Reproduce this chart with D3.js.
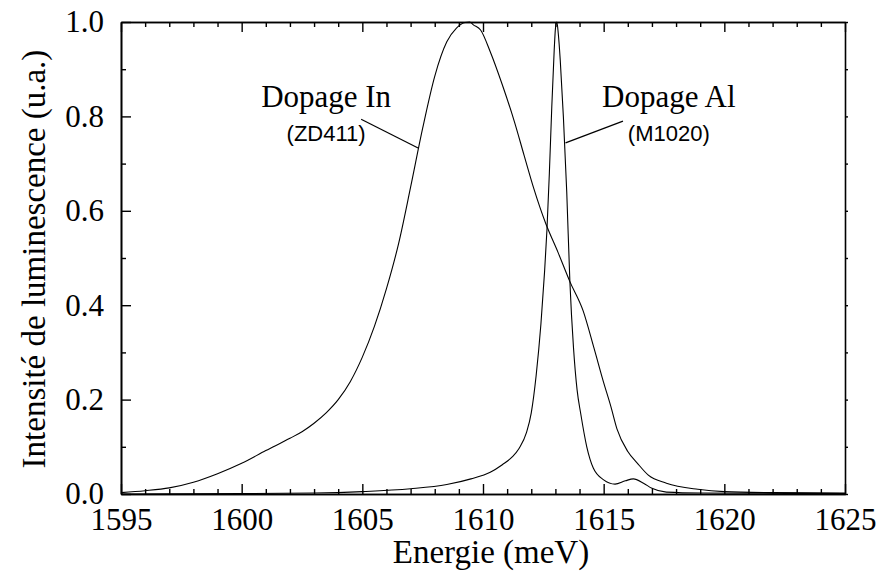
<!DOCTYPE html>
<html><head><meta charset="utf-8">
<script src="https://cdn.jsdelivr.net/npm/d3@7"></script>
<style>body{margin:0;background:#fff}</style>
</head><body><svg id="c" width="878" height="575"></svg>
<script>
// Dopage In (ZD411)
const inEnergy = [1595.0,1596.0,1597.0,1598.0,1599.0,1600.0,1601.0,1602.0,1602.5,1603.0,1603.5,1604.0,1604.5,1605.0,1605.5,1606.0,1606.5,1607.0,1607.5,1608.0,1608.5,1608.9,1609.25,1609.45,1609.6,1609.9,1610.3,1610.8,1611.3,1611.7,1612.1,1612.6,1613.1,1613.6,1614.15,1614.6,1615.0,1615.3,1615.55,1616.0,1616.4,1616.85,1617.6,1618.9,1620.0,1622.0,1625.0];
const inIntensity = [0.003,0.007,0.013,0.025,0.043,0.065,0.092,0.118,0.132,0.150,0.172,0.200,0.238,0.290,0.355,0.435,0.530,0.650,0.775,0.885,0.958,0.987,0.999,1.000,0.994,0.983,0.937,0.867,0.789,0.718,0.648,0.573,0.513,0.450,0.388,0.309,0.236,0.185,0.138,0.090,0.065,0.040,0.023,0.010,0.005,0.003,0.002];
// Dopage Al (M1020)
const alEnergy = [1595,1600,1603,1605,1607,1608.5,1609.5,1610.3,1610.8,1611.2,1611.5,1611.8,1612.0,1612.2,1612.4,1612.55,1612.65,1612.75,1612.85,1612.95,1613.0,1613.06,1613.12,1613.2,1613.33,1613.47,1613.6,1613.75,1613.9,1614.05,1614.3,1614.57,1615.0,1615.47,1615.9,1616.23,1616.65,1617.0,1617.6,1619.0,1625.0];
const alIntensity = [0.000,0.001,0.002,0.005,0.011,0.020,0.032,0.046,0.062,0.078,0.097,0.130,0.172,0.250,0.360,0.470,0.560,0.680,0.820,0.940,0.985,1.000,0.975,0.920,0.800,0.640,0.450,0.310,0.220,0.170,0.100,0.055,0.030,0.021,0.028,0.032,0.023,0.012,0.004,0.002,0.001];

const xMajorTicks = [1595,1600,1605,1610,1615,1620,1625];
const xMinorTicks = d3.range(1595,1626,1).filter(v=>v%5!==0);
const yMajorTicks = [0,0.2,0.4,0.6,0.8,1.0];
const yMinorTicks = [0.1,0.3,0.5,0.7,0.9];

const xTitle = "Energie (meV)";
const yTitle = "Intensité de luminescence (u.a.)";
const labelNames = ["Dopage In","Dopage Al"];
const labelSamples = ["(ZD411)","(M1020)"];
// annotation anchors in data units: [labelX, labelY, subY, lineX1, lineY1, lineX2, lineY2]
const labelAnchors = [
  [1603.5, 0.820, 0.748, 1604.95, 0.794, 1607.31, 0.733],
  [1617.70, 0.820, 0.748, 1615.80, 0.790, 1613.42, 0.744]
];

const W=878,H=575, m={l:121,r:33,t:22,b:81};
const svg=d3.select("#c");
const x=d3.scaleLinear().domain([1595,1625]).range([m.l,W-m.r]);
const y=d3.scaleLinear().domain([0,1]).range([H-m.b,m.t]);
const serif='"Liberation Serif","Times New Roman",serif';
const sans='"Liberation Sans",Arial,sans-serif';

function styleAxis(g){
  g.selectAll("path.domain").attr("stroke","#000").attr("stroke-width",1.6);
  g.selectAll(".tick line").attr("stroke","#000").attr("stroke-width",1.4);
  g.selectAll("text").attr("font-family",serif).attr("font-size",31).attr("fill","#000");
}
// bottom
const gb=svg.append("g").attr("transform",`translate(0,${y(0)})`)
  .call(d3.axisBottom(x).tickValues(xMajorTicks).tickFormat(d3.format("d")).tickSizeInner(-10).tickSizeOuter(0).tickPadding(14));
styleAxis(gb);
const gbm=svg.append("g").attr("transform",`translate(0,${y(0)})`)
  .call(d3.axisBottom(x).tickValues(xMinorTicks).tickFormat("").tickSizeInner(-5).tickSizeOuter(0));
styleAxis(gbm);
// top
const gt=svg.append("g").attr("transform",`translate(0,${y(1)})`)
  .call(d3.axisTop(x).tickValues(xMajorTicks).tickFormat("").tickSizeInner(-10).tickSizeOuter(0));
styleAxis(gt);
const gtm=svg.append("g").attr("transform",`translate(0,${y(1)})`)
  .call(d3.axisTop(x).tickValues(xMinorTicks).tickFormat("").tickSizeInner(-5).tickSizeOuter(0));
styleAxis(gtm);
// left
const gl=svg.append("g").attr("transform",`translate(${x(1595)},0)`)
  .call(d3.axisLeft(y).tickValues(yMajorTicks).tickFormat(d3.format(".1f")).tickSizeInner(-10).tickSizeOuter(0).tickPadding(17));
styleAxis(gl);
const glm=svg.append("g").attr("transform",`translate(${x(1595)},0)`)
  .call(d3.axisLeft(y).tickValues(yMinorTicks).tickFormat("").tickSizeInner(-5).tickSizeOuter(0));
styleAxis(glm);
// right
const gr=svg.append("g").attr("transform",`translate(${x(1625)},0)`)
  .call(d3.axisRight(y).tickValues(yMajorTicks.concat(yMinorTicks)).tickFormat("").tickSizeInner(3).tickSizeOuter(0));
styleAxis(gr);

// titles
svg.append("text").attr("x",(x(1595)+x(1625))/2+8).attr("y",563).attr("text-anchor","middle")
  .attr("font-family",serif).attr("font-size",33).text(xTitle);
svg.append("text").attr("transform",`translate(45,${(y(0)+y(1))/2+1}) rotate(-90)`).attr("text-anchor","middle")
  .attr("font-family",serif).attr("font-size",33).text(yTitle);

// curves
const line=d3.line().x(d=>x(d[0])).y(d=>y(d[1])).curve(d3.curveMonotoneX);
const inData=inEnergy.map((e,i)=>[e,inIntensity[i]]);
const alData=alEnergy.map((e,i)=>[e,alIntensity[i]]);
[inData,alData].forEach(dat=>{
  svg.append("path").datum(dat).attr("d",line).attr("fill","none").attr("stroke","#000").attr("stroke-width",1.1);
});

// annotations
labelAnchors.forEach((a,i)=>{
  svg.append("text").attr("x",x(a[0])).attr("y",y(a[1])).attr("text-anchor","middle")
    .attr("font-family",serif).attr("font-size",31).text(labelNames[i]);
  svg.append("text").attr("x",x(a[0])).attr("y",y(a[2])).attr("text-anchor","middle")
    .attr("font-family",sans).attr("font-size",22).text(labelSamples[i]);
  svg.append("line").attr("x1",x(a[3])).attr("y1",y(a[4])).attr("x2",x(a[5])).attr("y2",y(a[6]))
    .attr("stroke","#000").attr("stroke-width",1.2);
});
</script></body></html>
